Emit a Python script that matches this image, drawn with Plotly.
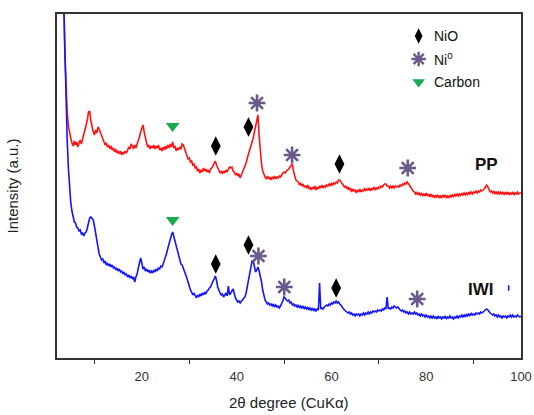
import numpy as np
import plotly.graph_objects as go

# 2-theta grid: 0.25 deg steps from 3 deg to 100 deg (one row per degree)
TWO_THETA_START = 3.0
TWO_THETA_STEP = 0.25

# PP sample, intensity (a.u., offset pattern)
pp_rows = [
    [420, 395, 365, 305], [273, 246, 232, 224], [220, 215, 212, 217], [213, 216, 211, 215],
    [218, 214, 219, 222], [226, 231, 238, 246], [247, 237, 229, 226], [223, 228, 225, 231],
    [229, 226, 222, 218], [216, 213, 215, 211], [213, 209, 212, 208], [210, 206, 209, 205],
    [207, 204, 207, 203], [206, 204, 207, 205], [208, 211, 209, 214], [212, 209, 213, 210],
    [214, 217, 221, 226], [230, 233, 226, 219], [215, 211, 213, 209], [212, 210, 213, 209],
    [212, 210, 213, 208], [210, 207, 211, 208], [212, 209, 213, 210], [214, 211, 216, 210],
    [212, 207, 210, 208], [211, 209, 214, 213], [209, 205, 203, 199], [200, 196, 197, 193],
    [194, 190, 191, 187], [189, 185, 188, 186], [190, 187, 189, 186], [188, 185, 189, 190],
    [192, 195, 197, 193], [190, 188, 185, 187], [184, 187, 185, 188], [186, 189, 191, 190],
    [191, 187, 186, 183], [185, 182, 184, 180], [183, 185, 188, 191], [195, 200, 204, 208],
    [211, 215, 220, 226], [231, 236, 243, 222], [205, 194, 187, 183], [181, 179, 182, 179],
    [181, 178, 181, 179], [182, 179, 181, 180], [182, 181, 184, 185], [186, 185, 187, 188],
    [189, 191, 193, 194], [187, 182, 178, 177], [176, 173, 175, 172], [174, 171, 172, 170],
    [173, 169, 171, 168], [171, 169, 172, 168], [171, 169, 172, 170], [173, 170, 172, 171],
    [173, 172, 174, 172], [175, 173, 175, 174], [176, 175, 178, 178], [176, 175, 173, 171],
    [172, 169, 171, 168], [170, 166, 169, 167], [168, 165, 168, 166], [169, 166, 168, 167],
    [170, 167, 169, 168], [170, 167, 170, 168], [171, 168, 170, 169], [171, 170, 172, 171],
    [173, 174, 174, 172], [172, 170, 172, 170], [172, 170, 172, 171], [172, 171, 173, 172],
    [174, 173, 175, 174], [176, 174, 172, 170], [168, 167, 166, 164], [166, 163, 165, 163],
    [165, 162, 164, 162], [165, 162, 164, 161], [164, 161, 163, 160], [163, 161, 163, 160],
    [162, 160, 163, 161], [163, 160, 162, 160], [163, 161, 163, 161], [164, 162, 164, 162],
    [164, 162, 165, 163], [165, 163, 165, 163], [166, 164, 166, 164], [166, 165, 167, 165],
    [167, 166, 168, 167], [168, 169, 171, 173], [171, 168, 166, 167], [165, 167, 164, 166],
    [164, 166, 164, 166], [164, 166, 163, 166], [164, 166, 163, 165], [164, 166, 163, 165],
    [164, 166, 164, 165], [165],
]

# IWI sample, intensity (a.u.)
iwi_rows = [
    [430, 400, 365, 312], [258, 218, 190, 170], [156, 147, 142, 136], [135, 131, 130, 127],
    [128, 124, 125, 122], [125, 126, 130, 135], [140, 141, 139, 138], [132, 124, 116, 109],
    [104, 101, 98, 99], [95, 97, 93, 95], [92, 94, 91, 93], [90, 91, 88, 90],
    [87, 89, 86, 87], [84, 86, 83, 84], [81, 83, 80, 82], [79, 81, 76, 81],
    [84, 90, 97, 100], [95, 89, 91, 87], [89, 86, 88, 85], [87, 85, 88, 86],
    [89, 87, 90, 89], [92, 91, 94, 97], [101, 105, 110, 115], [119, 123, 126, 121],
    [117, 112, 108, 102], [98, 94, 93, 90], [87, 84, 80, 76], [71, 68, 66, 63],
    [65, 62, 60, 63], [61, 64, 62, 65], [63, 66, 64, 67], [68, 70, 71, 74],
    [76, 79, 82, 78], [71, 67, 65, 63], [64, 61, 63, 65], [62, 72, 63, 66],
    [67, 69, 63, 60], [58, 56, 57, 55], [57, 58, 60, 61], [65, 71, 78, 86],
    [92, 97, 97, 89], [86, 88, 91, 87], [82, 76, 68, 62], [58, 56, 54, 55],
    [53, 54, 52, 54], [51, 53, 51, 52], [50, 52, 54, 57], [61, 60, 58, 57],
    [58, 55, 56, 53], [54, 52, 53, 51], [53, 50, 52, 50], [52, 49, 51, 49],
    [51, 48, 50, 48], [50, 47, 49, 47], [49, 48, 75, 49], [50, 49, 51, 52],
    [53, 52, 54, 53], [55, 54, 56, 55], [57, 55, 56, 54], [53, 51, 49, 48],
    [47, 46, 45, 46], [44, 45, 43, 44], [42, 44, 43, 44], [42, 44, 43, 45],
    [43, 45, 44, 46], [44, 46, 45, 47], [46, 47, 46, 48], [47, 48, 47, 49],
    [48, 50, 49, 61], [49, 50, 49, 51], [50, 52, 51, 50], [51, 49, 48, 47],
    [48, 46, 47, 45], [46, 44, 46, 44], [45, 44, 46, 44], [45, 43, 44, 42],
    [44, 42, 43, 41], [43, 41, 42, 40], [42, 40, 42, 40], [41, 39, 42, 40],
    [41, 39, 41, 40], [42, 39, 41, 40], [42, 40, 41, 39], [41, 40, 42, 40],
    [42, 41, 43, 41], [43, 41, 44, 42], [44, 42, 45, 43], [44, 43, 45, 44],
    [45, 44, 46, 45], [46, 47, 48, 49], [48, 46, 45, 44], [43, 44, 42, 43],
    [41, 43, 41, 42], [40, 42, 41, 42], [40, 42, 41, 43], [41, 43, 41, 42],
    [41, 43, 42, 41], [42],
]

pp_intensity = [v for row in pp_rows for v in row]
iwi_intensity = [v for row in iwi_rows for v in row]
pp_theta = TWO_THETA_START + TWO_THETA_STEP * np.arange(len(pp_intensity))
iwi_theta = TWO_THETA_START + TWO_THETA_STEP * np.arange(len(iwi_intensity))

# Phase markers placed above the reflections: (2theta, height)
pp_nio = ([35.6, 42.5, 61.7], [212, 231, 194])
pp_ni = ([44.3, 51.7, 76.1], [255, 203, 190])
pp_carbon = ([26.5], [232])
iwi_nio = ([35.6, 42.5, 61.0], [94, 113, 70])
iwi_ni = ([44.6, 50.05, 78.1], [102, 71, 59])
iwi_carbon = ([26.5], [138])
iwi_stray = ([97.4], [70])

# Key entries
key_labels = ["NiO", "Ni<sup>0</sup>", "Carbon"]
key_theta = 78.4
key_heights = [322, 299, 276]
key_text_theta = 81.2

FONT = "Liberation Sans, Arial, sans-serif"
NIO_STYLE = dict(symbol="diamond-tall", size=14, color="black")
NI_STYLE = dict(symbol="asterisk-open", size=14, color="#6a5a8c",
                line=dict(width=2.6, color="#6a5a8c"))
C_STYLE = dict(symbol="triangle-down", size=12, color="#1aab50")
KEY_NIO = dict(symbol="diamond-tall", size=11, color="black")
KEY_NI = dict(symbol="asterisk-open", size=12, color="#6a5a8c",
              line=dict(width=2.4, color="#6a5a8c"))
KEY_C = dict(symbol="triangle-down", size=11, color="#1aab50")

fig = go.Figure()
fig.add_trace(go.Scatter(x=pp_theta, y=pp_intensity, mode="lines",
                         line=dict(color="#ff1414", width=1.6), name="PP"))
fig.add_trace(go.Scatter(x=iwi_theta, y=iwi_intensity, mode="lines",
                         line=dict(color="#1414ff", width=1.6), name="IWI"))

for (xs, ys), style in [(pp_nio, NIO_STYLE), (iwi_nio, NIO_STYLE),
                        (pp_ni, NI_STYLE), (iwi_ni, NI_STYLE),
                        (pp_carbon, C_STYLE), (iwi_carbon, C_STYLE)]:
    fig.add_trace(go.Scatter(x=xs, y=ys, mode="markers", marker=style,
                             cliponaxis=False))

fig.add_trace(go.Scatter(x=iwi_stray[0], y=iwi_stray[1], mode="markers",
                         marker=dict(symbol="line-ns", size=4,
                                     line=dict(width=1.5, color="#1414ff"))))

for h, style in zip(key_heights, [KEY_NIO, KEY_NI, KEY_C]):
    fig.add_trace(go.Scatter(x=[key_theta], y=[h], mode="markers", marker=style))

annotations = [
    dict(x=key_text_theta, y=h, text=t, xanchor="left", yanchor="middle",
         showarrow=False, font=dict(family=FONT, size=14, color="#111"))
    for t, h in zip(key_labels, key_heights)
]
annotations += [
    dict(x=92.7, y=194, text="<b>PP</b>", showarrow=False,
         font=dict(family=FONT, size=17, color="#111")),
    dict(x=91.6, y=69, text="<b>IWI</b>", showarrow=False,
         font=dict(family=FONT, size=17, color="#111")),
    # x-axis title, placed below the tick labels
    dict(x=0.5, xref="paper", y=-0.128, yref="paper", text="2θ degree (CuKα)",
         xanchor="center", yanchor="middle", showarrow=False,
         font=dict(family=FONT, size=15, color="#222")),
]

fig.update_layout(
    width=534, height=415,
    margin=dict(l=57, r=13, t=14, b=57),
    paper_bgcolor="white", plot_bgcolor="white",
    showlegend=False,
    annotations=annotations,
    font=dict(family=FONT, color="#333"),
)
fig.update_xaxes(
    range=[2.1, 100], tick0=0, dtick=20, ticks="", showgrid=False, zeroline=False,
    automargin=False, ticklabelstandoff=5,
    showline=True, mirror=True, linecolor="#333", linewidth=2,
    tickfont=dict(family=FONT, size=13, color="#333"),
    minor=dict(dtick=10, tick0=0, ticks="outside", ticklen=4, tickcolor="#333",
               showgrid=False),
)
fig.update_yaxes(
    range=[0, 344], showticklabels=False, ticks="", showgrid=False, zeroline=False,
    automargin=False,
    showline=True, mirror=True, linecolor="#333", linewidth=2,
    title=dict(text="Intensity (a.u.)", font=dict(family=FONT, size=15, color="#222"),
               standoff=33),
)

fig.write_html("out.html")
